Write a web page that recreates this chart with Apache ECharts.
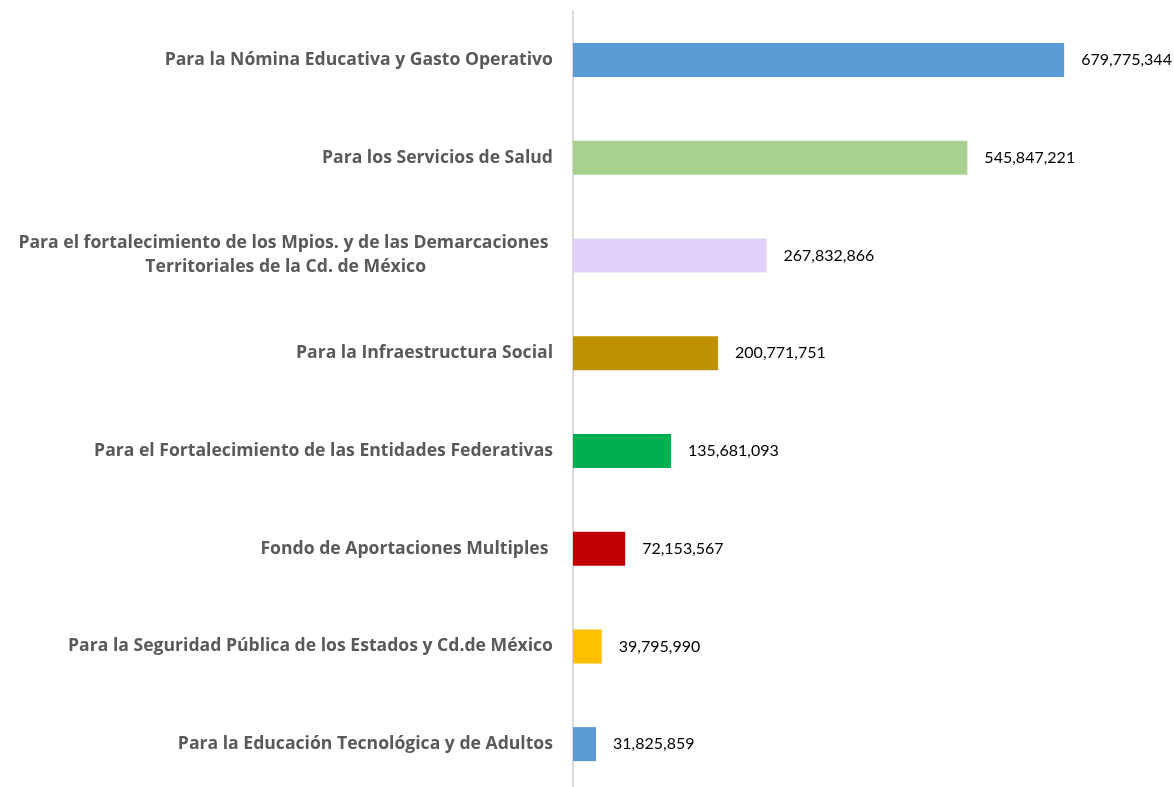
<!DOCTYPE html>
<html><head><meta charset="utf-8">
<script src="https://cdn.jsdelivr.net/npm/echarts@6/dist/echarts.min.js"></script>
<style>html,body{margin:0;padding:0;background:#fff;overflow:hidden}#c{width:1174px;height:794px}</style>
</head><body><div id="c"></div>
<script>
const categories = [
  "Para la Nómina Educativa y Gasto Operativo",
  "Para los Servicios de Salud",
  "Para el fortalecimiento de los Mpios. y de las Demarcaciones \nTerritoriales de la Cd. de México",
  "Para la Infraestructura Social",
  "Para el Fortalecimiento de las Entidades Federativas",
  "Fondo de Aportaciones Multiples ",
  "Para la Seguridad Pública de los Estados y Cd.de México",
  "Para la Educación Tecnológica y de Adultos"
];
const values = [679775344, 545847221, 267832866, 200771751, 135681093, 72153567, 39795990, 31825859];
const colors = ["#5B9BD5", "#A9D18E", "#E0D0FA", "#BF9000", "#00B050", "#C00000", "#FFC000", "#5B9BD5"];

const chart = echarts.init(document.getElementById('c'));
chart.setOption({
  animation: false,
  grid: {left: 573, top: 11, width: 578, height: 782, containLabel: false},
  xAxis: {type: 'value', min: 0, max: 800000000, show: false},
  yAxis: {
    type: 'category', inverse: true, data: categories,
    axisLine: {show: true, lineStyle: {color: '#d9d9d9', width: 2}},
    axisTick: {show: false},
    axisLabel: {
      margin: 20,
      formatter: v => v.split('\n').map(s => '{c|' + s + '}').join('\n'),
      rich: {c: {align: 'center', fontFamily: 'Open Sans', fontWeight: 'bold', fontSize: 17.6, color: '#595959', lineHeight: 24}}
    }
  },
  series: [{
    type: 'bar', barWidth: 34,
    data: values.map((v, i) => ({value: v, itemStyle: {color: colors[i]}})),
    label: {show: true, position: 'right', distance: 17, color: '#000', fontFamily: 'Lato', fontSize: 16,
      formatter: p => p.value.toLocaleString('en-US')}
  }]
});
</script></body></html>
